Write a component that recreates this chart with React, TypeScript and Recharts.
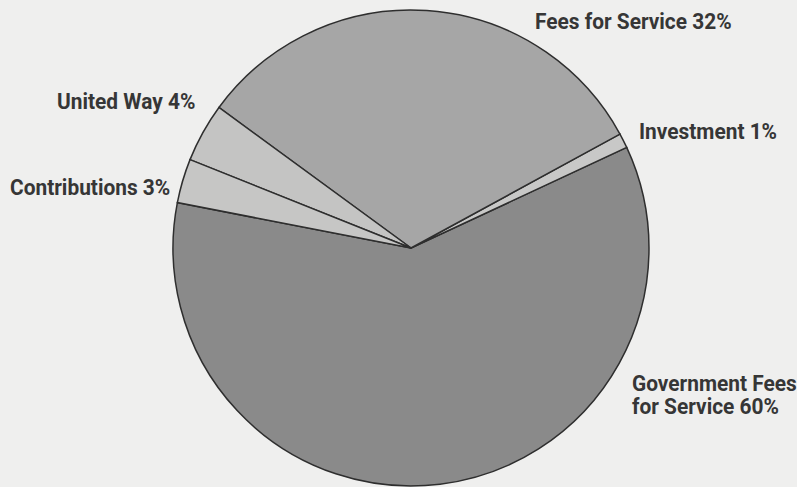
import { PieChart, Pie, Cell } from 'recharts';

const categories = ['Government Fees for Service', 'Investment', 'Fees for Service', 'United Way', 'Contributions'];
const shares = [60, 1, 32, 4, 3];
const labelLines = [
  ['Government Fees', 'for Service 60%'],
  ['Investment 1%'],
  ['Fees for Service 32%'],
  ['United Way 4%'],
  ['Contributions 3%'],
];

const data = categories.map((name, i) => ({ name, value: shares[i], lines: labelLines[i] }));

const FILLS = ['#8a8a8a', '#c8c8c7', '#a6a6a6', '#c4c4c3', '#c6c6c5'];

// label anchor (left edge, first baseline) relative to the pie centre
const LABEL_POS: Record<string, { dx: number; dy: number }> = {
  'Government Fees for Service': { dx: 221, dy: 143 },
  'Investment': { dx: 228, dy: -109 },
  'Fees for Service': { dx: 124, dy: -219 },
  'United Way': { dx: -354, dy: -139 },
  'Contributions': { dx: -401, dy: -53 },
};

const CX = 411;
const CY = 248;
const SQUEEZE = 0.95; // slightly condensed look

const renderLabel = (props: any) => {
  const pos = LABEL_POS[props.name];
  if (!pos) return null;
  const lines: string[] = props.payload?.lines ?? data[props.index].lines;
  const x = props.cx + pos.dx;
  const y = props.cy + pos.dy;
  return (
    <text
      transform={`translate(${x},${y}) scale(${SQUEEZE},1)`}
      x={0}
      y={0}
      fill="#363636"
      fontFamily="Roboto, 'Liberation Sans', sans-serif"
      fontWeight="bold"
      fontSize={22}
      textAnchor="start"
    >
      {lines.map((l, i) => (
        <tspan key={i} x={0} dy={i === 0 ? 0 : 23.5}>
          {l}
        </tspan>
      ))}
    </text>
  );
};

export default function App() {
  return (
    <div style={{ position: 'absolute', left: 0, top: 0, width: 797, height: 487, background: '#efefee' }}>
      <PieChart width={797} height={487} margin={{ top: 0, right: 0, bottom: 0, left: 0 }}>
        <Pie
          data={data}
          cx={CX}
          cy={CY}
          outerRadius={238}
          startAngle={-191}
          endAngle={169}
          dataKey="value"
          stroke="#2e2e2e"
          strokeWidth={1.5}
          label={renderLabel}
          labelLine={false}
          isAnimationActive={false}
        >
          {data.map((entry, index) => (
            <Cell key={`cell-${index}`} fill={FILLS[index]} />
          ))}
        </Pie>
      </PieChart>
    </div>
  );
}
